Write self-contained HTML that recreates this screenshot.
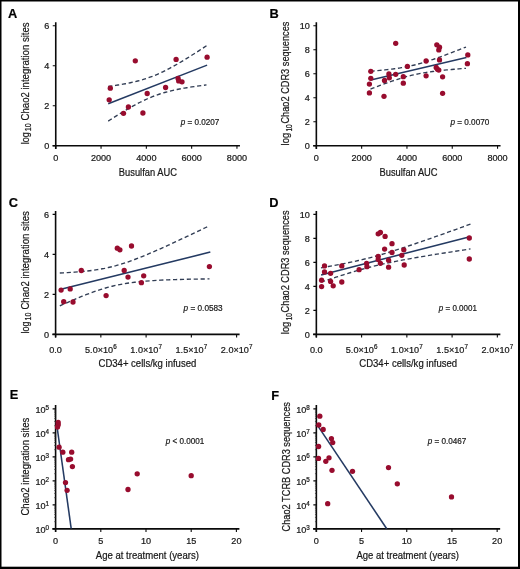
<!DOCTYPE html><html><head><meta charset="utf-8"><style>
html,body{margin:0;padding:0;background:#fff;}
svg{display:block;font-family:"Liberation Sans",sans-serif;will-change:transform;}
text{stroke:#181818;stroke-width:0.22px;}
</style></head><body>
<svg width="520" height="569" viewBox="0 0 520 569">
<rect x="0" y="0" width="520" height="569" fill="#fff"/>

<text x="8.1" y="17.6" font-weight="bold" font-size="12.8" fill="#000">A</text>
<path d="M55.75,22.3 V148.89999999999998 M52.55,145.7 H239.95" stroke="#0a0a0a" stroke-width="1.6" fill="none"/>
<path d="M55.75,145.7 v3 M101.05,145.7 v3 M146.35,145.7 v3 M191.65,145.7 v3 M236.95,145.7 v3 M55.75,145.7 h-3 M55.75,105.69999999999999 h-3 M55.75,65.69999999999999 h-3 M55.75,25.69999999999999 h-3" stroke="#0a0a0a" stroke-width="1.1" fill="none"/>
<text x="49.25" y="148.89999999999998" font-size="9.1" text-anchor="end" fill="#181818">0</text>
<text x="49.25" y="108.89999999999999" font-size="9.1" text-anchor="end" fill="#181818">2</text>
<text x="49.25" y="68.89999999999999" font-size="9.1" text-anchor="end" fill="#181818">4</text>
<text x="49.25" y="28.899999999999988" font-size="9.1" text-anchor="end" fill="#181818">6</text>
<text x="55.75" y="160.7" font-size="9.1" text-anchor="middle" fill="#181818">0</text>
<text x="101.05" y="160.7" font-size="9.1" text-anchor="middle" fill="#181818">2000</text>
<text x="146.35" y="160.7" font-size="9.1" text-anchor="middle" fill="#181818">4000</text>
<text x="191.65" y="160.7" font-size="9.1" text-anchor="middle" fill="#181818">6000</text>
<text x="236.95" y="160.7" font-size="9.1" text-anchor="middle" fill="#181818">8000</text>
<text transform="translate(28.6,144.20000000000002) rotate(-90)" x="0" y="0" font-size="10.4" fill="#181818" textLength="11.900000000000006" lengthAdjust="spacingAndGlyphs">log</text>
<text transform="translate(31.0,131.20000000000002) rotate(-90)" x="0" y="0" font-size="8.5" fill="#181818" textLength="7.800000000000011" lengthAdjust="spacingAndGlyphs">10</text>
<text transform="translate(28.6,120.39999999999999) rotate(-90)" x="0" y="0" font-size="10.9" fill="#181818" textLength="98.0" lengthAdjust="spacingAndGlyphs">Chao2 integration sites</text>
<text x="147.85" y="176.1" font-size="10.9" text-anchor="middle" fill="#181818" textLength="58.10000000000001" lengthAdjust="spacingAndGlyphs">Busulfan AUC</text>
<path d="M108.20,86.50 L110.66,86.15 L113.12,85.79 L115.57,85.41 L118.03,85.02 L120.49,84.61 L122.95,84.18 L125.40,83.73 L127.86,83.25 L130.32,82.74 L132.78,82.20 L135.23,81.63 L137.69,81.01 L140.15,80.35 L142.61,79.65 L145.06,78.89 L147.52,78.09 L149.98,77.22 L152.44,76.30 L154.89,75.33 L157.35,74.29 L159.81,73.20 L162.26,72.06 L164.72,70.86 L167.18,69.61 L169.64,68.33 L172.09,67.00 L174.55,65.63 L177.01,64.23 L179.47,62.80 L181.93,61.34 L184.38,59.85 L186.84,58.35 L189.30,56.83 L191.75,55.29 L194.21,53.73 L196.67,52.16 L199.13,50.58 L201.59,48.98 L204.04,47.38 L206.50,45.77" stroke="#313d54" stroke-width="1.35" fill="none" stroke-dasharray="4.2,2.7"/>
<path d="M108.20,121.10 L110.66,119.53 L113.12,117.96 L115.57,116.42 L118.03,114.88 L120.49,113.37 L122.95,111.88 L125.40,110.41 L127.86,108.96 L130.32,107.55 L132.78,106.17 L135.23,104.82 L137.69,103.51 L140.15,102.24 L142.61,101.03 L145.06,99.86 L147.52,98.74 L149.98,97.68 L152.44,96.68 L154.89,95.73 L157.35,94.84 L159.81,94.01 L162.26,93.23 L164.72,92.51 L167.18,91.83 L169.64,91.19 L172.09,90.60 L174.55,90.04 L177.01,89.52 L179.47,89.03 L181.93,88.56 L184.38,88.12 L186.84,87.71 L189.30,87.31 L191.75,86.92 L194.21,86.56 L196.67,86.20 L199.13,85.86 L201.59,85.53 L204.04,85.21 L206.50,84.90" stroke="#313d54" stroke-width="1.35" fill="none" stroke-dasharray="4.2,2.7"/>
<path d="M108.2,103.8 L207.1,65.1" stroke="#243a62" stroke-width="1.55" fill="none"/>
<circle cx="110.3" cy="88.2" r="2.65" fill="#980c2e"/>
<circle cx="109.2" cy="99.8" r="2.65" fill="#980c2e"/>
<circle cx="123.5" cy="113.3" r="2.65" fill="#980c2e"/>
<circle cx="128.4" cy="107.0" r="2.65" fill="#980c2e"/>
<circle cx="135.3" cy="60.8" r="2.65" fill="#980c2e"/>
<circle cx="142.9" cy="113.0" r="2.65" fill="#980c2e"/>
<circle cx="147.2" cy="93.5" r="2.65" fill="#980c2e"/>
<circle cx="165.6" cy="87.5" r="2.65" fill="#980c2e"/>
<circle cx="176.1" cy="59.4" r="2.65" fill="#980c2e"/>
<circle cx="178.1" cy="78.5" r="2.65" fill="#980c2e"/>
<circle cx="178.7" cy="80.9" r="2.65" fill="#980c2e"/>
<circle cx="182.0" cy="81.8" r="2.65" fill="#980c2e"/>
<circle cx="207.1" cy="57.2" r="2.65" fill="#980c2e"/>
<text x="180.70000000000002" y="124.7" font-size="9.2" fill="#181818" textLength="38.6" lengthAdjust="spacingAndGlyphs"><tspan font-style="italic">p</tspan> = 0.0207</text>
<text x="269.6" y="17.6" font-weight="bold" font-size="12.8" fill="#000">B</text>
<path d="M316.35,22.3 V148.89999999999998 M313.15000000000003,145.7 H500.55" stroke="#0a0a0a" stroke-width="1.6" fill="none"/>
<path d="M316.35,145.7 v3 M361.65000000000003,145.7 v3 M406.95000000000005,145.7 v3 M452.25,145.7 v3 M497.55,145.7 v3 M316.35,145.7 h-3 M316.35,121.69999999999999 h-3 M316.35,97.69999999999999 h-3 M316.35,73.69999999999999 h-3 M316.35,49.69999999999999 h-3 M316.35,25.69999999999999 h-3" stroke="#0a0a0a" stroke-width="1.1" fill="none"/>
<text x="309.85" y="148.89999999999998" font-size="9.1" text-anchor="end" fill="#181818">0</text>
<text x="309.85" y="124.89999999999999" font-size="9.1" text-anchor="end" fill="#181818">2</text>
<text x="309.85" y="100.89999999999999" font-size="9.1" text-anchor="end" fill="#181818">4</text>
<text x="309.85" y="76.89999999999999" font-size="9.1" text-anchor="end" fill="#181818">6</text>
<text x="309.85" y="52.89999999999999" font-size="9.1" text-anchor="end" fill="#181818">8</text>
<text x="309.85" y="28.899999999999988" font-size="9.1" text-anchor="end" fill="#181818">10</text>
<text x="316.35" y="160.7" font-size="9.1" text-anchor="middle" fill="#181818">0</text>
<text x="361.65000000000003" y="160.7" font-size="9.1" text-anchor="middle" fill="#181818">2000</text>
<text x="406.95000000000005" y="160.7" font-size="9.1" text-anchor="middle" fill="#181818">4000</text>
<text x="452.25" y="160.7" font-size="9.1" text-anchor="middle" fill="#181818">6000</text>
<text x="497.55" y="160.7" font-size="9.1" text-anchor="middle" fill="#181818">8000</text>
<text transform="translate(289.3,145.4) rotate(-90)" x="0" y="0" font-size="10.4" fill="#181818" textLength="12.5" lengthAdjust="spacingAndGlyphs">log</text>
<text transform="translate(291.8,131.5) rotate(-90)" x="0" y="0" font-size="8.5" fill="#181818" textLength="7.099999999999994" lengthAdjust="spacingAndGlyphs">10</text>
<text transform="translate(289.3,123.6) rotate(-90)" x="0" y="0" font-size="10.9" fill="#181818" textLength="102.0" lengthAdjust="spacingAndGlyphs">Chao2 CDR3 sequences</text>
<text x="408.55" y="176.1" font-size="10.9" text-anchor="middle" fill="#181818" textLength="58.10000000000002" lengthAdjust="spacingAndGlyphs">Busulfan AUC</text>
<path d="M370.50,71.32 L372.89,71.11 L375.27,70.89 L377.66,70.67 L380.05,70.44 L382.44,70.19 L384.82,69.94 L387.21,69.67 L389.60,69.39 L391.99,69.09 L394.38,68.77 L396.76,68.43 L399.15,68.07 L401.54,67.68 L403.93,67.26 L406.31,66.81 L408.70,66.32 L411.09,65.80 L413.48,65.24 L415.86,64.65 L418.25,64.01 L420.64,63.35 L423.02,62.65 L425.41,61.92 L427.80,61.16 L430.19,60.38 L432.57,59.58 L434.96,58.76 L437.35,57.92 L439.74,57.06 L442.12,56.20 L444.51,55.32 L446.90,54.43 L449.29,53.53 L451.68,52.63 L454.06,51.71 L456.45,50.80 L458.84,49.87 L461.23,48.94 L463.61,48.01 L466.00,47.07" stroke="#313d54" stroke-width="1.35" fill="none" stroke-dasharray="4.2,2.7"/>
<path d="M370.50,89.02 L372.89,88.11 L375.27,87.20 L377.66,86.30 L380.05,85.41 L382.44,84.53 L384.82,83.66 L387.21,82.80 L389.60,81.96 L391.99,81.14 L394.38,80.33 L396.76,79.55 L399.15,78.79 L401.54,78.05 L403.93,77.35 L406.31,76.68 L408.70,76.04 L411.09,75.44 L413.48,74.87 L415.86,74.34 L418.25,73.85 L420.64,73.39 L423.02,72.97 L425.41,72.57 L427.80,72.21 L430.19,71.86 L432.57,71.54 L434.96,71.24 L437.35,70.96 L439.74,70.69 L442.12,70.43 L444.51,70.19 L446.90,69.95 L449.29,69.72 L451.68,69.51 L454.06,69.29 L456.45,69.09 L458.84,68.89 L461.23,68.69 L463.61,68.50 L466.00,68.31" stroke="#313d54" stroke-width="1.35" fill="none" stroke-dasharray="4.2,2.7"/>
<path d="M370.8,80.1 L466.4,57.6" stroke="#243a62" stroke-width="1.55" fill="none"/>
<circle cx="395.7" cy="43.3" r="2.65" fill="#980c2e"/>
<circle cx="436.8" cy="44.8" r="2.65" fill="#980c2e"/>
<circle cx="439.5" cy="47.2" r="2.65" fill="#980c2e"/>
<circle cx="438.8" cy="49.9" r="2.65" fill="#980c2e"/>
<circle cx="467.8" cy="54.9" r="2.65" fill="#980c2e"/>
<circle cx="467.4" cy="63.7" r="2.65" fill="#980c2e"/>
<circle cx="439.5" cy="59.9" r="2.65" fill="#980c2e"/>
<circle cx="426.1" cy="61.0" r="2.65" fill="#980c2e"/>
<circle cx="407.4" cy="66.4" r="2.65" fill="#980c2e"/>
<circle cx="370.8" cy="71.3" r="2.65" fill="#980c2e"/>
<circle cx="370.8" cy="78.3" r="2.65" fill="#980c2e"/>
<circle cx="369.4" cy="84.1" r="2.65" fill="#980c2e"/>
<circle cx="369.4" cy="92.9" r="2.65" fill="#980c2e"/>
<circle cx="384.0" cy="96.3" r="2.65" fill="#980c2e"/>
<circle cx="388.9" cy="74.0" r="2.65" fill="#980c2e"/>
<circle cx="389.3" cy="77.8" r="2.65" fill="#980c2e"/>
<circle cx="384.5" cy="80.5" r="2.65" fill="#980c2e"/>
<circle cx="395.7" cy="74.3" r="2.65" fill="#980c2e"/>
<circle cx="403.3" cy="76.7" r="2.65" fill="#980c2e"/>
<circle cx="403.3" cy="83.2" r="2.65" fill="#980c2e"/>
<circle cx="426.1" cy="75.8" r="2.65" fill="#980c2e"/>
<circle cx="436.2" cy="67.4" r="2.65" fill="#980c2e"/>
<circle cx="437.5" cy="69.3" r="2.65" fill="#980c2e"/>
<circle cx="438.8" cy="70.1" r="2.65" fill="#980c2e"/>
<circle cx="442.6" cy="76.8" r="2.65" fill="#980c2e"/>
<circle cx="442.6" cy="93.3" r="2.65" fill="#980c2e"/>
<text x="450.4" y="124.7" font-size="9.2" fill="#181818" textLength="38.900000000000006" lengthAdjust="spacingAndGlyphs"><tspan font-style="italic">p</tspan> = 0.0070</text>
<text x="8.7" y="206.8" font-weight="bold" font-size="12.8" fill="#000">C</text>
<path d="M55.6,210.9 V337.59999999999997 M52.4,334.4 H239.60000000000002" stroke="#0a0a0a" stroke-width="1.6" fill="none"/>
<path d="M55.6,334.4 v3 M100.85000000000001,334.4 v3 M146.10000000000002,334.4 v3 M191.35000000000002,334.4 v3 M236.60000000000002,334.4 v3 M55.6,334.4 h-3 M55.6,294.4 h-3 M55.6,254.39999999999998 h-3 M55.6,214.39999999999998 h-3" stroke="#0a0a0a" stroke-width="1.1" fill="none"/>
<text x="49.1" y="337.59999999999997" font-size="9.1" text-anchor="end" fill="#181818">0</text>
<text x="49.1" y="297.59999999999997" font-size="9.1" text-anchor="end" fill="#181818">2</text>
<text x="49.1" y="257.59999999999997" font-size="9.1" text-anchor="end" fill="#181818">4</text>
<text x="49.1" y="217.59999999999997" font-size="9.1" text-anchor="end" fill="#181818">6</text>
<text x="55.6" y="353.09999999999997" font-size="9.1" text-anchor="middle" fill="#181818">0.0</text>
<text x="100.85000000000001" y="353.09999999999997" font-size="9.1" text-anchor="middle" fill="#181818">5.0×10<tspan font-size="6.3" dy="-4.0">6</tspan></text>
<text x="146.10000000000002" y="353.09999999999997" font-size="9.1" text-anchor="middle" fill="#181818">1.0×10<tspan font-size="6.3" dy="-4.0">7</tspan></text>
<text x="191.35000000000002" y="353.09999999999997" font-size="9.1" text-anchor="middle" fill="#181818">1.5×10<tspan font-size="6.3" dy="-4.0">7</tspan></text>
<text x="236.60000000000002" y="353.09999999999997" font-size="9.1" text-anchor="middle" fill="#181818">2.0×10<tspan font-size="6.3" dy="-4.0">7</tspan></text>
<text transform="translate(28.6,333.40000000000003) rotate(-90)" x="0" y="0" font-size="10.4" fill="#181818" textLength="11.900000000000034" lengthAdjust="spacingAndGlyphs">log</text>
<text transform="translate(31.0,320.40000000000003) rotate(-90)" x="0" y="0" font-size="8.5" fill="#181818" textLength="7.800000000000011" lengthAdjust="spacingAndGlyphs">10</text>
<text transform="translate(28.6,309.6) rotate(-90)" x="0" y="0" font-size="10.9" fill="#181818" textLength="98.5" lengthAdjust="spacingAndGlyphs">Chao2 integration sites</text>
<text x="147.4" y="366.7" font-size="10.9" text-anchor="middle" fill="#181818" textLength="97.80000000000001" lengthAdjust="spacingAndGlyphs">CD34+ cells/kg infused</text>
<path d="M59.80,272.98 L63.54,272.80 L67.28,272.61 L71.03,272.38 L74.77,272.13 L78.51,271.84 L82.25,271.51 L86.00,271.13 L89.74,270.71 L93.48,270.22 L97.22,269.66 L100.97,269.03 L104.71,268.32 L108.45,267.52 L112.19,266.64 L115.94,265.66 L119.68,264.58 L123.42,263.43 L127.16,262.19 L130.91,260.88 L134.65,259.50 L138.39,258.06 L142.13,256.57 L145.88,255.04 L149.62,253.47 L153.36,251.86 L157.10,250.22 L160.85,248.56 L164.59,246.88 L168.33,245.18 L172.07,243.46 L175.82,241.73 L179.56,239.98 L183.30,238.23 L187.04,236.46 L190.79,234.68 L194.53,232.90 L198.27,231.11 L202.01,229.31 L205.76,227.51 L209.50,225.70" stroke="#313d54" stroke-width="1.35" fill="none" stroke-dasharray="4.2,2.7"/>
<path d="M59.80,305.86 L63.54,304.18 L67.28,302.52 L71.03,300.89 L74.77,299.29 L78.51,297.72 L82.25,296.20 L86.00,294.71 L89.74,293.29 L93.48,291.92 L97.22,290.62 L100.97,289.39 L104.71,288.24 L108.45,287.19 L112.19,286.22 L115.94,285.34 L119.68,284.56 L123.42,283.86 L127.16,283.24 L130.91,282.70 L134.65,282.22 L138.39,281.80 L142.13,281.43 L145.88,281.11 L149.62,280.83 L153.36,280.58 L157.10,280.36 L160.85,280.16 L164.59,279.99 L168.33,279.83 L172.07,279.70 L175.82,279.57 L179.56,279.46 L183.30,279.36 L187.04,279.27 L190.79,279.19 L194.53,279.12 L198.27,279.06 L202.01,279.00 L205.76,278.94 L209.50,278.89" stroke="#313d54" stroke-width="1.35" fill="none" stroke-dasharray="4.2,2.7"/>
<path d="M61.9,288.9 L210.3,252.1" stroke="#243a62" stroke-width="1.55" fill="none"/>
<circle cx="61.1" cy="290.1" r="2.65" fill="#980c2e"/>
<circle cx="70.2" cy="288.9" r="2.65" fill="#980c2e"/>
<circle cx="63.7" cy="301.7" r="2.65" fill="#980c2e"/>
<circle cx="73.0" cy="302.0" r="2.65" fill="#980c2e"/>
<circle cx="81.3" cy="270.5" r="2.65" fill="#980c2e"/>
<circle cx="106.1" cy="295.6" r="2.65" fill="#980c2e"/>
<circle cx="117.3" cy="248.2" r="2.65" fill="#980c2e"/>
<circle cx="119.9" cy="249.8" r="2.65" fill="#980c2e"/>
<circle cx="131.5" cy="246.0" r="2.65" fill="#980c2e"/>
<circle cx="124.2" cy="270.5" r="2.65" fill="#980c2e"/>
<circle cx="128.0" cy="277.1" r="2.65" fill="#980c2e"/>
<circle cx="141.4" cy="282.7" r="2.65" fill="#980c2e"/>
<circle cx="143.7" cy="275.8" r="2.65" fill="#980c2e"/>
<circle cx="209.4" cy="266.6" r="2.65" fill="#980c2e"/>
<text x="183.6" y="310.7" font-size="9.2" fill="#181818" textLength="39.1" lengthAdjust="spacingAndGlyphs"><tspan font-style="italic">p</tspan> = 0.0583</text>
<text x="269.3" y="206.8" font-weight="bold" font-size="12.8" fill="#000">D</text>
<path d="M316.35,210.9 V337.59999999999997 M313.15000000000003,334.4 H500.35" stroke="#0a0a0a" stroke-width="1.6" fill="none"/>
<path d="M316.35,334.4 v3 M361.6,334.4 v3 M406.85,334.4 v3 M452.1,334.4 v3 M497.35,334.4 v3 M316.35,334.4 h-3 M316.35,310.4 h-3 M316.35,286.4 h-3 M316.35,262.4 h-3 M316.35,238.39999999999998 h-3 M316.35,214.39999999999998 h-3" stroke="#0a0a0a" stroke-width="1.1" fill="none"/>
<text x="309.85" y="337.59999999999997" font-size="9.1" text-anchor="end" fill="#181818">0</text>
<text x="309.85" y="313.59999999999997" font-size="9.1" text-anchor="end" fill="#181818">2</text>
<text x="309.85" y="289.59999999999997" font-size="9.1" text-anchor="end" fill="#181818">4</text>
<text x="309.85" y="265.59999999999997" font-size="9.1" text-anchor="end" fill="#181818">6</text>
<text x="309.85" y="241.59999999999997" font-size="9.1" text-anchor="end" fill="#181818">8</text>
<text x="309.85" y="217.59999999999997" font-size="9.1" text-anchor="end" fill="#181818">10</text>
<text x="316.35" y="353.09999999999997" font-size="9.1" text-anchor="middle" fill="#181818">0.0</text>
<text x="361.6" y="353.09999999999997" font-size="9.1" text-anchor="middle" fill="#181818">5.0×10<tspan font-size="6.3" dy="-4.0">6</tspan></text>
<text x="406.85" y="353.09999999999997" font-size="9.1" text-anchor="middle" fill="#181818">1.0×10<tspan font-size="6.3" dy="-4.0">7</tspan></text>
<text x="452.1" y="353.09999999999997" font-size="9.1" text-anchor="middle" fill="#181818">1.5×10<tspan font-size="6.3" dy="-4.0">7</tspan></text>
<text x="497.35" y="353.09999999999997" font-size="9.1" text-anchor="middle" fill="#181818">2.0×10<tspan font-size="6.3" dy="-4.0">7</tspan></text>
<text transform="translate(289.1,334.2) rotate(-90)" x="0" y="0" font-size="10.4" fill="#181818" textLength="12.5" lengthAdjust="spacingAndGlyphs">log</text>
<text transform="translate(291.6,320.3) rotate(-90)" x="0" y="0" font-size="8.5" fill="#181818" textLength="7.100000000000023" lengthAdjust="spacingAndGlyphs">10</text>
<text transform="translate(289.1,312.40000000000003) rotate(-90)" x="0" y="0" font-size="10.9" fill="#181818" textLength="102.00000000000003" lengthAdjust="spacingAndGlyphs">Chao2 CDR3 sequences</text>
<text x="408.20000000000005" y="366.7" font-size="10.9" text-anchor="middle" fill="#181818" textLength="97.80000000000001" lengthAdjust="spacingAndGlyphs">CD34+ cells/kg infused</text>
<path d="M321.00,267.82 L324.74,267.17 L328.48,266.51 L332.21,265.83 L335.95,265.14 L339.69,264.43 L343.43,263.70 L347.16,262.95 L350.90,262.17 L354.64,261.36 L358.38,260.52 L362.11,259.64 L365.85,258.73 L369.59,257.78 L373.32,256.80 L377.06,255.77 L380.80,254.72 L384.54,253.62 L388.27,252.50 L392.01,251.35 L395.75,250.17 L399.49,248.97 L403.23,247.75 L406.96,246.52 L410.70,245.26 L414.44,244.00 L418.18,242.72 L421.91,241.43 L425.65,240.13 L429.39,238.83 L433.12,237.52 L436.86,236.20 L440.60,234.87 L444.34,233.54 L448.07,232.21 L451.81,230.87 L455.55,229.53 L459.29,228.19 L463.02,226.84 L466.76,225.49 L470.50,224.14" stroke="#313d54" stroke-width="1.35" fill="none" stroke-dasharray="4.2,2.7"/>
<path d="M321.00,282.23 L324.74,280.96 L328.48,279.69 L332.21,278.44 L335.95,277.21 L339.69,276.00 L343.43,274.80 L347.16,273.63 L350.90,272.49 L354.64,271.37 L358.38,270.29 L362.11,269.24 L365.85,268.22 L369.59,267.25 L373.32,266.31 L377.06,265.41 L380.80,264.54 L384.54,263.71 L388.27,262.90 L392.01,262.13 L395.75,261.38 L399.49,260.66 L403.23,259.95 L406.96,259.27 L410.70,258.59 L414.44,257.94 L418.18,257.29 L421.91,256.65 L425.65,256.03 L429.39,255.41 L433.12,254.79 L436.86,254.19 L440.60,253.59 L444.34,252.99 L448.07,252.40 L451.81,251.81 L455.55,251.23 L459.29,250.65 L463.02,250.07 L466.76,249.49 L470.50,248.92" stroke="#313d54" stroke-width="1.35" fill="none" stroke-dasharray="4.2,2.7"/>
<path d="M321.1,275.0 L467.9,237.2" stroke="#243a62" stroke-width="1.55" fill="none"/>
<circle cx="324.5" cy="265.9" r="2.65" fill="#980c2e"/>
<circle cx="324.5" cy="271.9" r="2.65" fill="#980c2e"/>
<circle cx="330.6" cy="273.3" r="2.65" fill="#980c2e"/>
<circle cx="321.6" cy="280.2" r="2.65" fill="#980c2e"/>
<circle cx="321.6" cy="286.6" r="2.65" fill="#980c2e"/>
<circle cx="330.6" cy="281.4" r="2.65" fill="#980c2e"/>
<circle cx="333.2" cy="285.8" r="2.65" fill="#980c2e"/>
<circle cx="341.8" cy="265.9" r="2.65" fill="#980c2e"/>
<circle cx="341.8" cy="282.0" r="2.65" fill="#980c2e"/>
<circle cx="359.1" cy="269.7" r="2.65" fill="#980c2e"/>
<circle cx="366.6" cy="263.3" r="2.65" fill="#980c2e"/>
<circle cx="366.9" cy="266.7" r="2.65" fill="#980c2e"/>
<circle cx="378.2" cy="233.8" r="2.65" fill="#980c2e"/>
<circle cx="380.4" cy="232.5" r="2.65" fill="#980c2e"/>
<circle cx="385.1" cy="236.4" r="2.65" fill="#980c2e"/>
<circle cx="392.0" cy="243.7" r="2.65" fill="#980c2e"/>
<circle cx="384.6" cy="249.1" r="2.65" fill="#980c2e"/>
<circle cx="392.0" cy="252.5" r="2.65" fill="#980c2e"/>
<circle cx="378.2" cy="256.3" r="2.65" fill="#980c2e"/>
<circle cx="378.2" cy="259.5" r="2.65" fill="#980c2e"/>
<circle cx="380.4" cy="263.3" r="2.65" fill="#980c2e"/>
<circle cx="388.6" cy="260.2" r="2.65" fill="#980c2e"/>
<circle cx="388.6" cy="267.2" r="2.65" fill="#980c2e"/>
<circle cx="403.8" cy="249.8" r="2.65" fill="#980c2e"/>
<circle cx="401.8" cy="255.3" r="2.65" fill="#980c2e"/>
<circle cx="404.2" cy="265.0" r="2.65" fill="#980c2e"/>
<circle cx="469.3" cy="238.0" r="2.65" fill="#980c2e"/>
<circle cx="469.3" cy="259.0" r="2.65" fill="#980c2e"/>
<text x="438.79999999999995" y="310.7" font-size="9.2" fill="#181818" textLength="38.1" lengthAdjust="spacingAndGlyphs"><tspan font-style="italic">p</tspan> = 0.0001</text>
<text x="9.8" y="398.9" font-weight="bold" font-size="12.8" fill="#000">E</text>
<path d="M55.6,405 V532.1 M52.4,528.9 H239.39999999999998" stroke="#0a0a0a" stroke-width="1.6" fill="none"/>
<path d="M55.6,528.9 v3 M100.8,528.9 v3 M146.0,528.9 v3 M191.2,528.9 v3 M236.39999999999998,528.9 v3 M55.6,528.9 h-3 M55.6,504.9 h-3 M55.6,480.9 h-3 M55.6,456.9 h-3 M55.6,432.9 h-3 M55.6,408.9 h-3" stroke="#0a0a0a" stroke-width="1.1" fill="none"/>
<path d="M55.6,521.68 h-1.4 M55.6,517.45 h-1.4 M55.6,514.45 h-1.4 M55.6,512.12 h-1.4 M55.6,510.22 h-1.4 M55.6,508.62 h-1.4 M55.6,507.23 h-1.4 M55.6,506.00 h-1.4 M55.6,497.68 h-1.4 M55.6,493.45 h-1.4 M55.6,490.45 h-1.4 M55.6,488.12 h-1.4 M55.6,486.22 h-1.4 M55.6,484.62 h-1.4 M55.6,483.23 h-1.4 M55.6,482.00 h-1.4 M55.6,473.68 h-1.4 M55.6,469.45 h-1.4 M55.6,466.45 h-1.4 M55.6,464.12 h-1.4 M55.6,462.22 h-1.4 M55.6,460.62 h-1.4 M55.6,459.23 h-1.4 M55.6,458.00 h-1.4 M55.6,449.68 h-1.4 M55.6,445.45 h-1.4 M55.6,442.45 h-1.4 M55.6,440.12 h-1.4 M55.6,438.22 h-1.4 M55.6,436.62 h-1.4 M55.6,435.23 h-1.4 M55.6,434.00 h-1.4 M55.6,425.68 h-1.4 M55.6,421.45 h-1.4 M55.6,418.45 h-1.4 M55.6,416.12 h-1.4 M55.6,414.22 h-1.4 M55.6,412.62 h-1.4 M55.6,411.23 h-1.4 M55.6,410.00 h-1.4" stroke="#333" stroke-width="0.7" fill="none"/>
<text x="49.1" y="533.1" font-size="9.1" text-anchor="end" fill="#181818">10<tspan font-size="6.3" dy="-3.3">0</tspan></text>
<text x="49.1" y="509.09999999999997" font-size="9.1" text-anchor="end" fill="#181818">10<tspan font-size="6.3" dy="-3.3">1</tspan></text>
<text x="49.1" y="485.09999999999997" font-size="9.1" text-anchor="end" fill="#181818">10<tspan font-size="6.3" dy="-3.3">2</tspan></text>
<text x="49.1" y="461.09999999999997" font-size="9.1" text-anchor="end" fill="#181818">10<tspan font-size="6.3" dy="-3.3">3</tspan></text>
<text x="49.1" y="437.09999999999997" font-size="9.1" text-anchor="end" fill="#181818">10<tspan font-size="6.3" dy="-3.3">4</tspan></text>
<text x="49.1" y="413.09999999999997" font-size="9.1" text-anchor="end" fill="#181818">10<tspan font-size="6.3" dy="-3.3">5</tspan></text>
<text x="55.6" y="543.9" font-size="9.1" text-anchor="middle" fill="#181818">0</text>
<text x="100.8" y="543.9" font-size="9.1" text-anchor="middle" fill="#181818">5</text>
<text x="146.0" y="543.9" font-size="9.1" text-anchor="middle" fill="#181818">10</text>
<text x="191.2" y="543.9" font-size="9.1" text-anchor="middle" fill="#181818">15</text>
<text x="236.39999999999998" y="543.9" font-size="9.1" text-anchor="middle" fill="#181818">20</text>
<text transform="translate(28.8,515.5999999999999) rotate(-90)" x="0" y="0" font-size="10.9" fill="#181818" textLength="97.89999999999998" lengthAdjust="spacingAndGlyphs">Chao2 integration sites</text>
<text x="147.35" y="558.8" font-size="10.9" text-anchor="middle" fill="#181818" textLength="103.10000000000001" lengthAdjust="spacingAndGlyphs">Age at treatment (years)</text>
<path d="M56.4,422 L71.2,528.7" stroke="#243a62" stroke-width="1.55" fill="none"/>
<circle cx="58.2" cy="422.5" r="2.65" fill="#980c2e"/>
<circle cx="58.2" cy="424.8" r="2.65" fill="#980c2e"/>
<circle cx="57.5" cy="427.1" r="2.65" fill="#980c2e"/>
<circle cx="59.1" cy="447.2" r="2.65" fill="#980c2e"/>
<circle cx="62.8" cy="452.2" r="2.65" fill="#980c2e"/>
<circle cx="71.7" cy="452.2" r="2.65" fill="#980c2e"/>
<circle cx="68.5" cy="459.7" r="2.65" fill="#980c2e"/>
<circle cx="70.6" cy="459.1" r="2.65" fill="#980c2e"/>
<circle cx="72.4" cy="466.6" r="2.65" fill="#980c2e"/>
<circle cx="65.5" cy="482.6" r="2.65" fill="#980c2e"/>
<circle cx="67.1" cy="490.3" r="2.65" fill="#980c2e"/>
<circle cx="128" cy="489.5" r="2.65" fill="#980c2e"/>
<circle cx="137.2" cy="473.8" r="2.65" fill="#980c2e"/>
<circle cx="191.2" cy="475.7" r="2.65" fill="#980c2e"/>
<text x="165.70000000000002" y="443.8" font-size="9.2" fill="#181818" textLength="38.6" lengthAdjust="spacingAndGlyphs"><tspan font-style="italic">p</tspan> &lt; 0.0001</text>
<text x="271.2" y="399.5" font-weight="bold" font-size="12.8" fill="#000">F</text>
<path d="M316.35,405 V532.1 M313.15000000000003,528.9 H500.15" stroke="#0a0a0a" stroke-width="1.6" fill="none"/>
<path d="M316.35,528.9 v3 M361.55,528.9 v3 M406.75,528.9 v3 M451.95000000000005,528.9 v3 M497.15,528.9 v3 M316.35,528.9 h-3 M316.35,504.9 h-3 M316.35,480.9 h-3 M316.35,456.9 h-3 M316.35,432.9 h-3 M316.35,408.9 h-3" stroke="#0a0a0a" stroke-width="1.1" fill="none"/>
<path d="M316.35,521.68 h-1.4 M316.35,517.45 h-1.4 M316.35,514.45 h-1.4 M316.35,512.12 h-1.4 M316.35,510.22 h-1.4 M316.35,508.62 h-1.4 M316.35,507.23 h-1.4 M316.35,506.00 h-1.4 M316.35,497.68 h-1.4 M316.35,493.45 h-1.4 M316.35,490.45 h-1.4 M316.35,488.12 h-1.4 M316.35,486.22 h-1.4 M316.35,484.62 h-1.4 M316.35,483.23 h-1.4 M316.35,482.00 h-1.4 M316.35,473.68 h-1.4 M316.35,469.45 h-1.4 M316.35,466.45 h-1.4 M316.35,464.12 h-1.4 M316.35,462.22 h-1.4 M316.35,460.62 h-1.4 M316.35,459.23 h-1.4 M316.35,458.00 h-1.4 M316.35,449.68 h-1.4 M316.35,445.45 h-1.4 M316.35,442.45 h-1.4 M316.35,440.12 h-1.4 M316.35,438.22 h-1.4 M316.35,436.62 h-1.4 M316.35,435.23 h-1.4 M316.35,434.00 h-1.4 M316.35,425.68 h-1.4 M316.35,421.45 h-1.4 M316.35,418.45 h-1.4 M316.35,416.12 h-1.4 M316.35,414.22 h-1.4 M316.35,412.62 h-1.4 M316.35,411.23 h-1.4 M316.35,410.00 h-1.4" stroke="#333" stroke-width="0.7" fill="none"/>
<text x="309.85" y="533.1" font-size="9.1" text-anchor="end" fill="#181818">10<tspan font-size="6.3" dy="-3.3">3</tspan></text>
<text x="309.85" y="509.09999999999997" font-size="9.1" text-anchor="end" fill="#181818">10<tspan font-size="6.3" dy="-3.3">4</tspan></text>
<text x="309.85" y="485.09999999999997" font-size="9.1" text-anchor="end" fill="#181818">10<tspan font-size="6.3" dy="-3.3">5</tspan></text>
<text x="309.85" y="461.09999999999997" font-size="9.1" text-anchor="end" fill="#181818">10<tspan font-size="6.3" dy="-3.3">6</tspan></text>
<text x="309.85" y="437.09999999999997" font-size="9.1" text-anchor="end" fill="#181818">10<tspan font-size="6.3" dy="-3.3">7</tspan></text>
<text x="309.85" y="413.09999999999997" font-size="9.1" text-anchor="end" fill="#181818">10<tspan font-size="6.3" dy="-3.3">8</tspan></text>
<text x="316.35" y="543.9" font-size="9.1" text-anchor="middle" fill="#181818">0</text>
<text x="361.55" y="543.9" font-size="9.1" text-anchor="middle" fill="#181818">5</text>
<text x="406.75" y="543.9" font-size="9.1" text-anchor="middle" fill="#181818">10</text>
<text x="451.95000000000005" y="543.9" font-size="9.1" text-anchor="middle" fill="#181818">15</text>
<text x="497.15" y="543.9" font-size="9.1" text-anchor="middle" fill="#181818">20</text>
<text transform="translate(289.5,531.4) rotate(-90)" x="0" y="0" font-size="10.9" fill="#181818" textLength="129.3" lengthAdjust="spacingAndGlyphs">Chao2 TCRB CDR3 sequences</text>
<text x="407.7" y="558.8" font-size="10.9" text-anchor="middle" fill="#181818" textLength="102.39999999999998" lengthAdjust="spacingAndGlyphs">Age at treatment (years)</text>
<path d="M317.5,425.4 L386.7,528.7" stroke="#243a62" stroke-width="1.55" fill="none"/>
<circle cx="319.8" cy="416.2" r="2.65" fill="#980c2e"/>
<circle cx="318.8" cy="425.0" r="2.65" fill="#980c2e"/>
<circle cx="323.2" cy="429.4" r="2.65" fill="#980c2e"/>
<circle cx="331.4" cy="438.6" r="2.65" fill="#980c2e"/>
<circle cx="332.7" cy="442.6" r="2.65" fill="#980c2e"/>
<circle cx="318.6" cy="446.5" r="2.65" fill="#980c2e"/>
<circle cx="318.5" cy="458.4" r="2.65" fill="#980c2e"/>
<circle cx="325.8" cy="461.3" r="2.65" fill="#980c2e"/>
<circle cx="329.0" cy="457.8" r="2.65" fill="#980c2e"/>
<circle cx="332.0" cy="470.3" r="2.65" fill="#980c2e"/>
<circle cx="352.5" cy="471.3" r="2.65" fill="#980c2e"/>
<circle cx="327.7" cy="503.7" r="2.65" fill="#980c2e"/>
<circle cx="388.5" cy="467.6" r="2.65" fill="#980c2e"/>
<circle cx="397.3" cy="483.8" r="2.65" fill="#980c2e"/>
<circle cx="451.5" cy="496.9" r="2.65" fill="#980c2e"/>
<text x="427.7" y="443.8" font-size="9.2" fill="#181818" textLength="38.6" lengthAdjust="spacingAndGlyphs"><tspan font-style="italic">p</tspan> = 0.0467</text>
<rect x="0" y="0" width="520" height="1.5" fill="#000"/>
<rect x="0" y="0" width="1.5" height="569" fill="#000"/>
<rect x="518" y="0" width="2" height="569" fill="#000"/>
<rect x="0" y="566.7" width="520" height="2.3" fill="#000"/>
</svg></body></html>
